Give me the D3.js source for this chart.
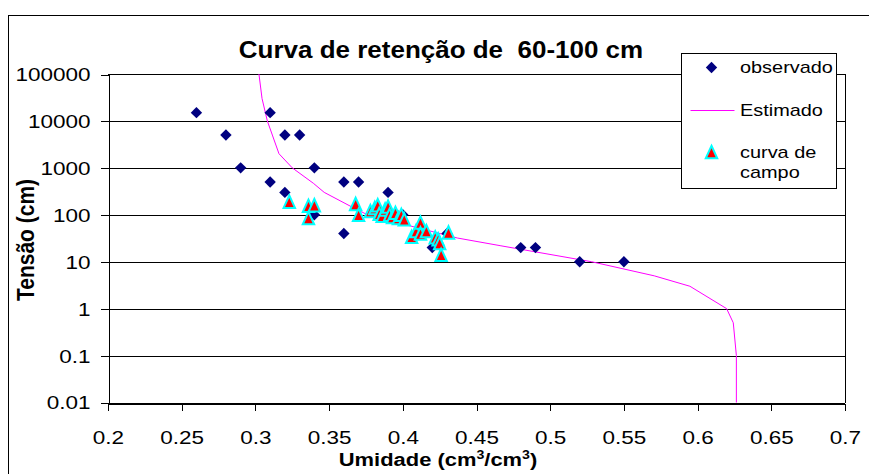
<!DOCTYPE html>
<html>
<head>
<meta charset="utf-8">
<script src="https://cdn.jsdelivr.net/npm/d3@7"></script>
<style>
  html, body { margin: 0; padding: 0; background: #fff; }
  svg { display: block; }
  text { font-family: "Liberation Sans", Arial, sans-serif; fill: #000; }
</style>
</head>
<body>
<svg id="chart" width="869" height="474"></svg>
<script>
// Observed retention points (moisture, tension in cm)
const umidadeObs = [0.26, 0.31, 0.28, 0.32, 0.33, 0.29, 0.34, 0.31, 0.32, 0.36, 0.37, 0.39, 0.36, 0.34, 0.40, 0.42, 0.43, 0.48, 0.49, 0.52, 0.55];
const tensaoObs  = [15000, 15000, 5000, 5000, 5000, 1000, 1000, 500, 300, 500, 500, 300, 40, 100, 100, 20, 40, 20, 20, 10, 10];

// Estimated retention curve
const umidadeEst = [0.6263, 0.6263, 0.6242, 0.6197, 0.5948, 0.5706, 0.528, 0.466, 0.437, 0.405, 0.376, 0.3642, 0.3467, 0.3393, 0.325, 0.316, 0.3115, 0.3081, 0.3045, 0.3024];
const tensaoEst  = [0.01, 0.1, 0.5, 1, 3, 5, 10, 22, 32, 58, 100, 154, 300, 470, 1000, 2000, 5000, 10000, 30000, 100000];

// Field curve measurements
const umidadeCampo = [0.323, 0.336, 0.340, 0.336, 0.368, 0.370, 0.378, 0.381, 0.383, 0.384, 0.386, 0.388, 0.390, 0.391, 0.393, 0.395, 0.397, 0.399, 0.401, 0.406, 0.409, 0.412, 0.412, 0.416, 0.422, 0.424, 0.425, 0.426, 0.431];
const tensaoCampo  = [190, 155, 160, 85, 170, 100, 120, 140, 160, 105, 95, 130, 150, 100, 90, 110, 85, 100, 80, 34, 45, 68, 40, 45, 33, 30, 25, 14, 42];

// Axis ticks
const xTicks = [0.2, 0.25, 0.3, 0.35, 0.4, 0.45, 0.5, 0.55, 0.6, 0.65, 0.7];
const xTickLabels = ["0.2", "0.25", "0.3", "0.35", "0.4", "0.45", "0.5", "0.55", "0.6", "0.65", "0.7"];
const yTicks = [0.01, 0.1, 1, 10, 100, 1000, 10000, 100000];
const yTickLabels = ["0.01", "0.1", "1", "10", "100", "1000", "10000", "100000"];

const svg = d3.select("#chart");
const plot = { left: 108, right: 845, top: 74, bottom: 402.5 };

const x = d3.scaleLinear().domain([0.2, 0.7]).range([plot.left, plot.right]);
const y = d3.scaleLog().domain([0.01, 100000]).range([plot.bottom, plot.top]);

svg.append("rect").attr("width", 869).attr("height", 474).attr("fill", "#fff");

// Outer chart frame
svg.append("path")
  .attr("d", "M8.5,474 V15.5 H869")
  .attr("fill", "none").attr("stroke", "#000").attr("stroke-width", 1)
  .attr("shape-rendering", "crispEdges");

// Horizontal gridlines
svg.append("g").selectAll("line").data(yTicks).join("line")
  .attr("x1", plot.left).attr("x2", plot.right)
  .attr("y1", d => Math.round(y(d)) + 0.5).attr("y2", d => Math.round(y(d)) + 0.5)
  .attr("stroke", "#000").attr("stroke-width", 1)
  .attr("shape-rendering", "crispEdges");

// Plot area right border
svg.append("line")
  .attr("x1", plot.right + 0.5).attr("x2", plot.right + 0.5)
  .attr("y1", plot.top).attr("y2", plot.bottom)
  .attr("stroke", "#000").attr("shape-rendering", "crispEdges");

// Axes
const kTick = 1.25;
const yAxis = svg.append("g")
  .attr("transform", `translate(${plot.left + 0.5},0)`)
  .call(d3.axisLeft(y).tickValues(yTicks).tickFormat((d, i) => yTickLabels[i]).tickSize(8).tickSizeOuter(0));
const xAxis = svg.append("g")
  .attr("transform", `translate(0,${Math.round(plot.bottom) + 0.5})`)
  .call(d3.axisBottom(x).tickValues(xTicks).tickFormat((d, i) => xTickLabels[i]).tickSize(7).tickSizeOuter(0));

[yAxis, xAxis].forEach(a => {
  a.select(".domain").attr("stroke", "#000").attr("shape-rendering", "crispEdges");
  a.selectAll(".tick line").attr("stroke", "#000").attr("shape-rendering", "crispEdges");
  a.selectAll(".tick text")
    .attr("font-family", '"Liberation Sans", Arial, sans-serif')
    .attr("font-size", 18).attr("fill", "#000");
});
yAxis.selectAll(".tick line").attr("y1", 0.5).attr("y2", 0.5);
yAxis.selectAll(".tick text")
  .attr("x", -18 / kTick).attr("dy", "0.36em")
  .attr("transform", `scale(${kTick},1)`);
xAxis.selectAll(".tick text")
  .attr("y", 41).attr("dy", 0)
  .attr("transform", `scale(${kTick},1)`);

// Estimated curve
const pts = umidadeEst.map((u, i) => [u, tensaoEst[i]]);
svg.append("path")
  .datum(pts)
  .attr("fill", "none").attr("stroke", "#ff00ff").attr("stroke-width", 1)
  .attr("d", d3.line().x(d => x(d[0])).y(d => y(d[1])));

// Custom marker shapes
const squareDiamond = {
  draw(ctx, size) {
    const r = Math.sqrt(size) / 2;
    ctx.moveTo(0, -r); ctx.lineTo(r, 0); ctx.lineTo(0, r); ctx.lineTo(-r, 0); ctx.closePath();
  }
};
const isoTriangle = {
  draw(ctx, size) {
    const s = Math.sqrt(size);
    const w = s * 0.46, h = s * 0.5;
    ctx.moveTo(0, -h); ctx.lineTo(w, h); ctx.lineTo(-w, h); ctx.closePath();
  }
};
const diamondPath = d3.symbol().type(squareDiamond).size(130)();
const trianglePath = d3.symbol().type(isoTriangle).size(155)();

// Observed points
svg.append("g").selectAll("path").data(umidadeObs.map((u, i) => [u, tensaoObs[i]])).join("path")
  .attr("d", diamondPath)
  .attr("transform", d => `translate(${x(d[0])},${y(d[1])})`)
  .attr("fill", "#000080");

// Field curve points
svg.append("g").selectAll("path").data(umidadeCampo.map((u, i) => [u, tensaoCampo[i]])).join("path")
  .attr("d", trianglePath)
  .attr("transform", d => `translate(${x(d[0])},${y(d[1])})`)
  .attr("fill", "#ff0000").attr("stroke", "#00ffff").attr("stroke-width", 2)
  .attr("stroke-linejoin", "miter");

// Title
svg.append("text")
  .attr("transform", "translate(441,57.5) scale(1.13,1)")
  .attr("text-anchor", "middle").attr("font-size", 23).attr("font-weight", "bold")
  .attr("xml:space", "preserve").style("white-space", "pre")
  .text("Curva de retenção de  60-100 cm");

// X axis title with superscripts
const xt = svg.append("text")
  .attr("transform", "translate(438,465.5) scale(1.18,1)")
  .attr("text-anchor", "middle").attr("font-size", 18.6).attr("font-weight", "bold");
xt.append("tspan").text("Umidade (cm");
xt.append("tspan").attr("font-size", 12).attr("dy", -7).text("3");
xt.append("tspan").attr("dy", 7).text("/cm");
xt.append("tspan").attr("font-size", 12).attr("dy", -7).text("3");
xt.append("tspan").attr("dy", 7).text(")");

// Y axis title
svg.append("text")
  .attr("transform", "translate(34,240) rotate(-90) scale(1,1.11)")
  .attr("text-anchor", "middle").attr("font-size", 21).attr("font-weight", "bold")
  .text("Tensão (cm)");

// Legend
const lg = svg.append("g");
lg.append("rect")
  .attr("x", 681.5).attr("y", 53.5).attr("width", 155).attr("height", 135)
  .attr("fill", "#fff").attr("stroke", "#000").attr("stroke-width", 1)
  .attr("shape-rendering", "crispEdges");
lg.append("path").attr("d", diamondPath)
  .attr("transform", "translate(711.5,67.5)").attr("fill", "#000080");
lg.append("line").attr("x1", 690.5).attr("x2", 734.5).attr("y1", 110.5).attr("y2", 110.5)
  .attr("stroke", "#ff00ff").attr("stroke-width", 1);
lg.append("path").attr("d", trianglePath)
  .attr("transform", "translate(711.5,152)")
  .attr("fill", "#ff0000").attr("stroke", "#00ffff").attr("stroke-width", 2);
const legendLabels = [["observado", 72.5], ["Estimado", 115.5], ["curva de", 157.5], ["campo", 177.5]];
lg.selectAll("text.lbl").data(legendLabels).join("text")
  .attr("class", "lbl")
  .attr("transform", d => `translate(740,${d[1]}) scale(1.17,1)`)
  .attr("font-size", 17)
  .text(d => d[0]);
</script>
</body>
</html>
